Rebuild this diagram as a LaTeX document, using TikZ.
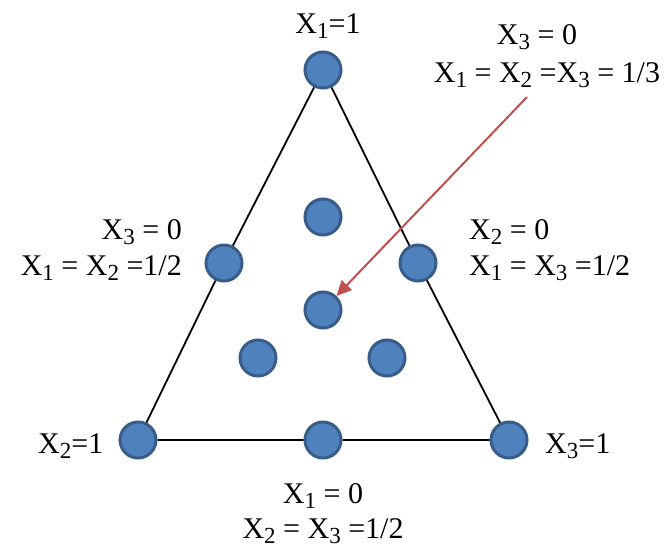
\documentclass[tikz,border=0pt]{standalone}
\usepackage{fontspec}
\setmainfont{Liberation Serif}
\usetikzlibrary{arrows.meta}
\definecolor{dotfill}{HTML}{4F81BD}
\definecolor{dotedge}{HTML}{385D8A}
\definecolor{arrred}{HTML}{C0504D}
\newcommand\sbs[1]{\raisebox{-0.17em}{\fontsize{23}{23}\selectfont #1}}
\begin{document}
\begin{tikzpicture}[x=1pt,y=-1pt,
  dot/.style={circle,minimum size=36pt,inner sep=0pt,fill=dotfill,draw=dotedge,line width=3pt},
  lbl/.style={inner sep=0pt,font=\fontsize{30}{36}\selectfont},
  edge/.style={line width=1.8pt,black}]
\useasboundingbox (0,0) rectangle (664,549);
% dots
\node[dot] (v1) at (323,70) {};
\node[dot] (v2) at (138,440) {};
\node[dot] (v3) at (509,440) {};
\node[dot] (m12) at (224,263) {};
\node[dot] (m13) at (418,263) {};
\node[dot] (m23) at (323,440) {};
\node[dot] (c1) at (323,217) {};
\node[dot] (c2) at (323,310) {};
\node[dot] (c3) at (258,358) {};
\node[dot] (c4) at (387,358) {};
% triangle
\draw[edge] (v1) -- (m12) -- (v2) -- (m23) -- (v3) -- (m13) -- (v1);
% arrow
\coordinate (as) at (527,97);
\draw[arrred,line width=2pt,-{Triangle[length=15pt,width=14pt]}] (as) -- (c2);
% labels
\node[lbl,anchor=base] (t1) at (328,33) {X\sbs{1}=1};
\node[lbl,anchor=base] (tr1) at (537,44) {X\sbs{3} = 0};
\node[lbl,anchor=base] (tr2) at (547,82) {X\sbs{1} = X\sbs{2} =X\sbs{3} = 1/3};
\node[lbl,anchor=base east] (l1) at (182,239) {X\sbs{3} = 0};
\node[lbl,anchor=base east] (l2) at (182,275) {X\sbs{1} = X\sbs{2} =1/2};
\node[lbl,anchor=base west] (r1) at (469,239) {X\sbs{2} = 0};
\node[lbl,anchor=base west] (r2) at (469,275) {X\sbs{1} = X\sbs{3} =1/2};
\node[lbl,anchor=base west] (bl) at (38,453) {X\sbs{2}=1};
\node[lbl,anchor=base west] (br) at (545,453) {X\sbs{3}=1};
\node[lbl,anchor=base] (b1) at (323,503) {X\sbs{1} = 0};
\node[lbl,anchor=base] (b2) at (323,538) {X\sbs{2} = X\sbs{3} =1/2};
\end{tikzpicture}
\end{document}
